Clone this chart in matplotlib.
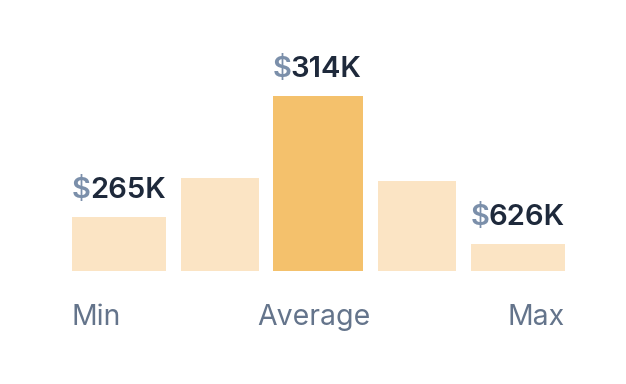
import matplotlib
matplotlib.use("Agg")
import matplotlib.pyplot as plt
from matplotlib.transforms import offset_copy

# ---- data ----
categories = ["Min", "", "Average", "", "Max"]
bar_values = [54, 93, 175, 90, 27]
value_labels = ["265K", None, "314K", None, "626K"]
currency = "$"
highlight_index = 2

# ---- layout (pixels) ----
W, H = 626, 384
centers = [119, 220, 318, 417, 518]
widths = [94, 78, 90, 78, 94]
baseline = 271

light = "#FBE4C4"
strong = "#F4C16C"
dollar_color = "#7B8FAA"
num_color = "#1E293B"
cat_color = "#64748B"

plt.rcParams["font.family"] = ["Inter", "DejaVu Sans"]

fig = plt.figure(figsize=(W / 100, H / 100), dpi=100)
ax = fig.add_axes([0, 0, 1, 1])
ax.set_xlim(0, W)
ax.set_ylim(-(H - baseline), baseline)
ax.axis("off")

colors = [strong if i == highlight_index else light for i in range(len(bar_values))]
ax.bar(centers, bar_values, width=widths, color=colors, linewidth=0)

fig.canvas.draw()
renderer = fig.canvas.get_renderer()

for i, (c, w, v, lab) in enumerate(zip(centers, widths, bar_values, value_labels)):
    if lab is None:
        continue
    left = c - w / 2
    t = ax.text(left, v + 19, currency, color=dollar_color, fontsize=21,
                fontweight="semibold", ha="left", va="baseline", parse_math=False)
    bb = t.get_window_extent(renderer)
    tr = offset_copy(ax.transData, fig=fig, x=(bb.width - 1) * 72 / 100, y=0, units="points")
    ax.text(left, v + 19, lab, color=num_color, fontsize=21,
            fontweight="semibold", ha="left", va="baseline", transform=tr)

n = len(categories)
for i, (c, w, cat) in enumerate(zip(centers, widths, categories)):
    if not cat:
        continue
    if i == 0:
        x, ha = c - w / 2, "left"
    elif i == n - 1:
        x, ha = c + w / 2, "right"
    else:
        x, ha = c - 4, "center"
    ax.text(x, -(325 - baseline), cat, color=cat_color, fontsize=20.5,
            ha=ha, va="baseline")

fig.savefig("out.png", dpi=100)
